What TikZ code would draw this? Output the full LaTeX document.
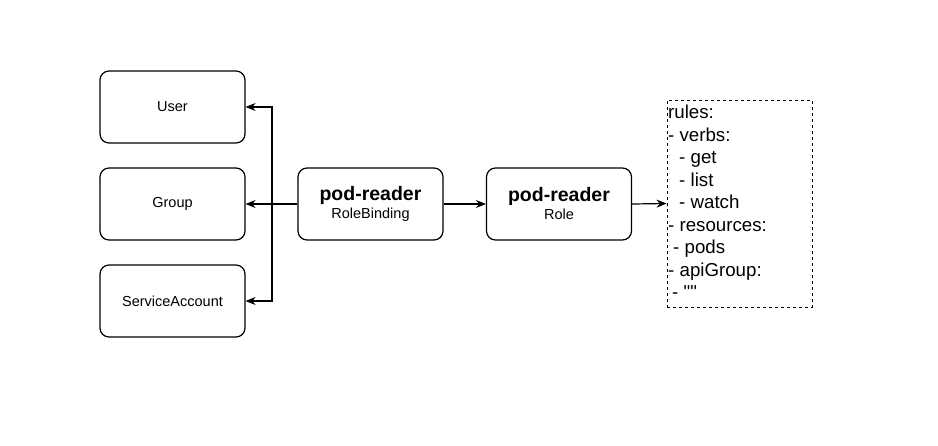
\documentclass[tikz,border=0pt]{standalone}
\usepackage{fontspec}
\setmainfont{Liberation Sans}[Ligatures=TeXOff]
\usetikzlibrary{arrows.meta}
\tikzset{
  box/.style={draw, line width=1.2pt, rounded corners=9pt, minimum width=145pt, minimum height=72pt, inner sep=0pt, align=center, font=\fontsize{14.5}{17}\selectfont},
  conn/.style={line width=1.2pt, -{Stealth[length=10pt,width=8pt]}},
  plain/.style={line width=1.2pt}
}
\newcommand{\bigb}[1]{{\fontsize{19.5}{23}\selectfont\bfseries #1}}
\begin{document}
\begin{tikzpicture}[x=1pt,y=-1pt]
\useasboundingbox (0,0) rectangle (938,445);
\node[box] (user) at (172.5,107) {\raisebox{-2pt}{User}};
\node[box] (group) at (172.5,204) {\raisebox{-2pt}{Group}};
\node[box] (sa) at (172.5,301) {\raisebox{-2pt}{ServiceAccount}};
\node[box] (rb) at (370.5,204) {\raisebox{-2pt}{\bigb{pod-reader}}\\[3pt]RoleBinding};
\node[box] (role) at (559,204) {\raisebox{-2pt}{\bigb{pod-reader}}\\[3pt]Role};
\node[draw, dashed, line width=0.9pt, minimum width=145pt, minimum height=207pt, inner sep=0pt] (rules) at (739.5,203.5) {};
\node[anchor=north west, inner sep=0pt, align=left, font=\fontsize{18.7}{22.5}\selectfont] (rulestext) at (668,105)
{rules:\\
- verbs:\\
\hspace*{11pt}- get\\
\hspace*{11pt}- list\\
\hspace*{11pt}- watch\\
- resources:\\
\hspace*{5pt}- pods\\
- apiGroup:\\
\hspace*{4pt}- ""};
\coordinate (j) at (272,204);
\draw[plain] (rb.west) -- (j);
\draw[conn] (j) -- (group.east);
\draw[conn] (j) |- (user.east);
\draw[conn] (j) |- (sa.east);
\draw[conn] (rb.east) -- (role.west);
\draw[conn] (role.east) -- (rules.west);
\end{tikzpicture}
\end{document}
